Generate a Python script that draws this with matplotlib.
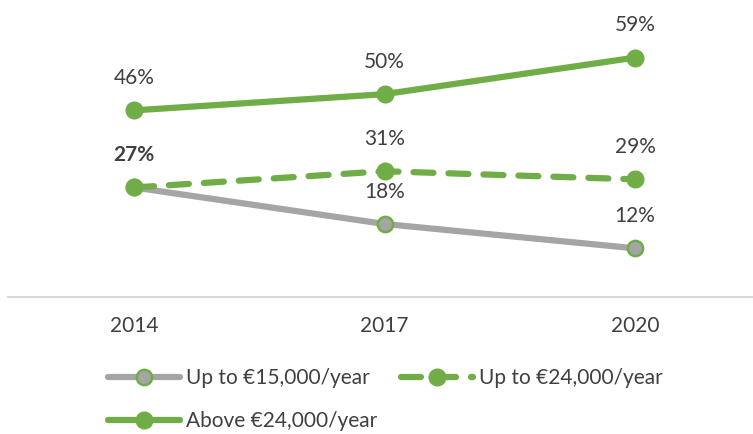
import matplotlib
matplotlib.use("Agg")
import matplotlib.pyplot as plt

years = ["2014", "2017", "2020"]
up_to_15k = [27, 18, 12]
up_to_24k = [27, 31, 29]
above_24k = [46, 50, 59]
series_names = ["Up to €15,000/year", "Up to €24,000/year", "Above €24,000/year"]

GREEN = "#70AD47"
GRAY = "#A5A5A5"
TEXT = "#404040"
FS = 15

plt.rcParams['font.family'] = ['Lato', 'DejaVu Sans']

W, H = 753, 434
fig = plt.figure(figsize=(W / 100, H / 100), dpi=100)
ax = fig.add_axes([8 / W, 1 - 297 / H, 745 / W, 284 / H])
ax.set_ylim(0, 70)
xs = list(range(len(years)))
ax.set_xlim(-0.503, 2.471)

l1, = ax.plot(xs, up_to_15k, color=GRAY, lw=4.5, marker='o', ms=11,
              mfc=GRAY, mec=GREEN, mew=1.8, solid_capstyle='round', zorder=3)
l2, = ax.plot(xs, up_to_24k, color=GREEN, lw=4.5, ls=(0, (3.2, 2.4)), marker='o', ms=12,
              mfc=GREEN, mec=GREEN, dash_capstyle='round', zorder=4)
l3, = ax.plot(xs, above_24k, color=GREEN, lw=4.5, marker='o', ms=12,
              mfc=GREEN, mec=GREEN, solid_capstyle='round', zorder=4)

def lab(x, y, bold=False):
    ax.annotate(f"{y}%", (x, y), xytext=(0, 16), textcoords='offset points',
                ha='center', va='bottom', fontsize=FS, color=TEXT,
                fontweight='bold' if bold else 'normal')

for i, v in enumerate(above_24k):
    lab(i, v)
for i, v in enumerate(up_to_24k):
    lab(i, v, bold=(i == 0))
for i, v in enumerate(up_to_15k):
    if i == 0:
        continue
    lab(i, v)

for s in ['top', 'right', 'left']:
    ax.spines[s].set_visible(False)
ax.spines['bottom'].set_color('#D9D9D9')
ax.spines['bottom'].set_linewidth(1.5)
ax.set_yticks([])
ax.set_xticks(xs)
ax.set_xticklabels(years)
ax.tick_params(axis='x', length=0, pad=14, labelsize=FS, labelcolor=TEXT)

leg = fig.legend([l1, l3, l2], [series_names[0], series_names[2], series_names[1]],
                 loc='upper left', bbox_to_anchor=(108 / W, 1 - 368 / H), ncol=2,
                 frameon=False, fontsize=FS, labelcolor=TEXT, handlelength=3.45,
                 handletextpad=0.3, columnspacing=1.15, labelspacing=1.12, borderaxespad=0,
                 borderpad=0)

fig.savefig("out.png", dpi=100)
